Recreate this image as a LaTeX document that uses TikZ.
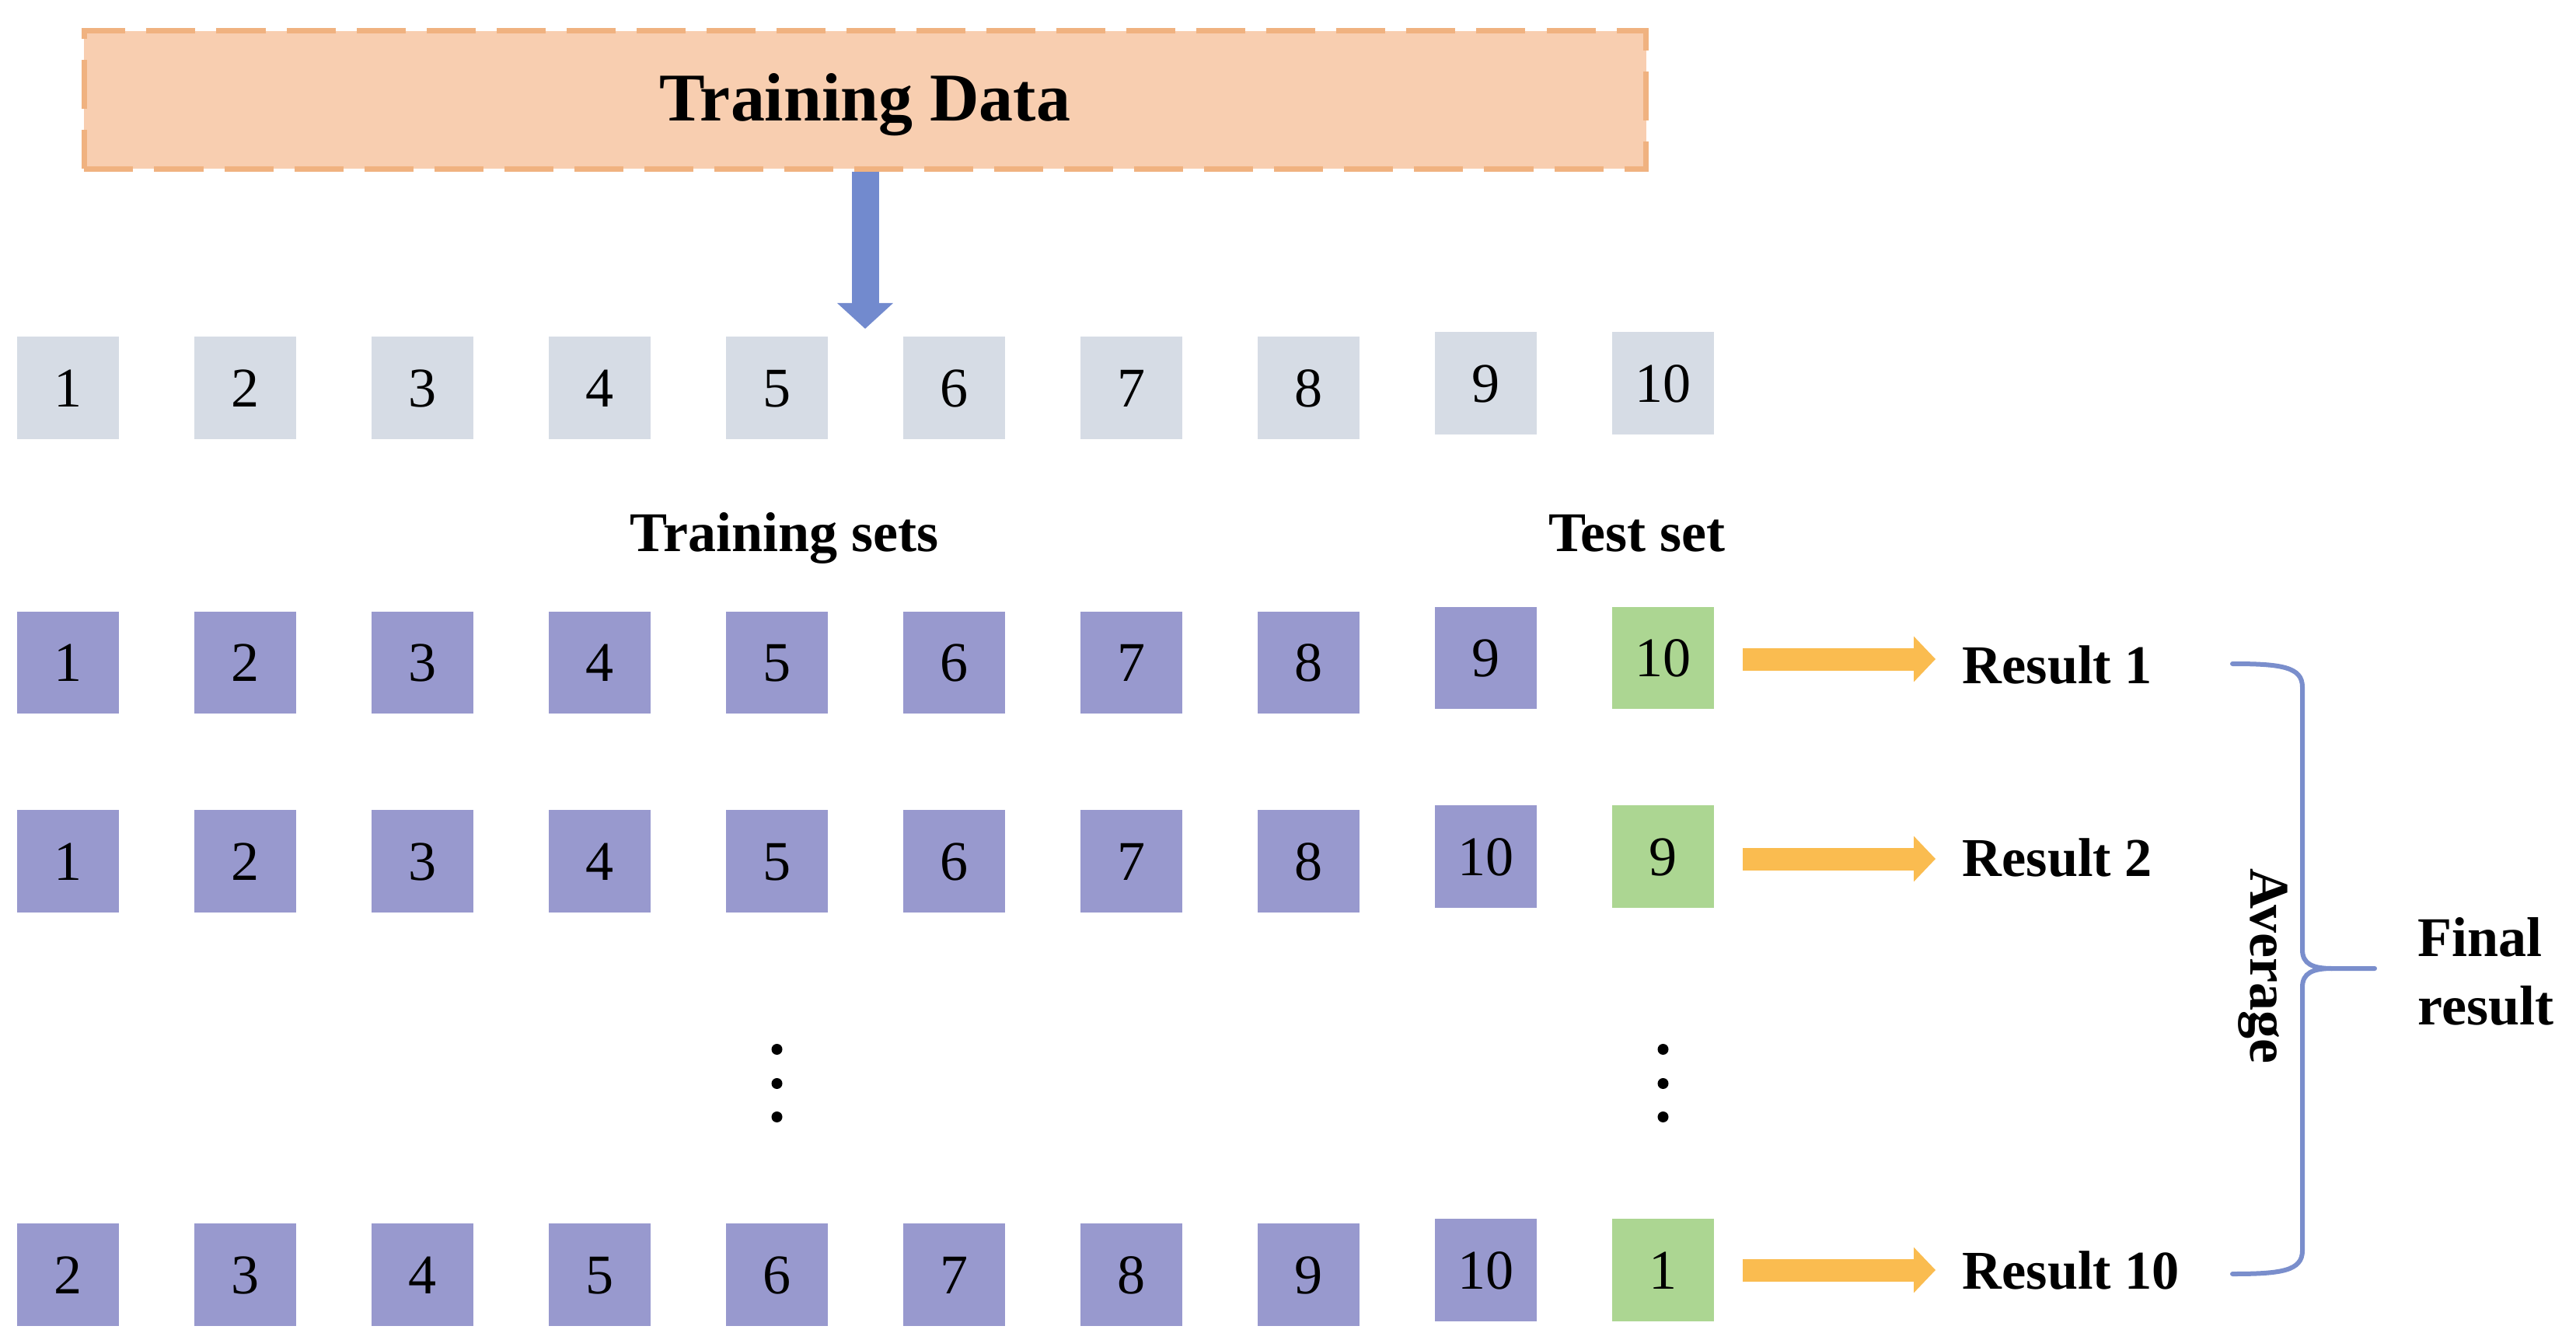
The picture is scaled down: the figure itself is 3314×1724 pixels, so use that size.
\documentclass[tikz,border=0pt]{standalone}
\usepackage{fontspec}
\setmainfont{Liberation Serif}
\usetikzlibrary{arrows.meta}
\definecolor{tdfill}{RGB}{248,206,176}
\definecolor{tdline}{RGB}{240,178,128}
\definecolor{grayb}{RGB}{214,220,229}
\definecolor{purpb}{RGB}{152,153,206}
\definecolor{greenb}{RGB}{172,214,146}
\definecolor{bluea}{RGB}{114,138,206}
\definecolor{orangea}{RGB}{250,188,80}
\definecolor{bracec}{RGB}{122,142,204}
\begin{document}
\begin{tikzpicture}[x=0.01cm,y=-0.01cm,
  cell/.style={minimum width=1.31cm,minimum height=1.31cm,inner sep=0pt,outer sep=0pt,
    text height=0.487cm,text depth=0pt,font=\fontsize{20.5}{24}\selectfont},
  gcell/.style={cell,fill=grayb},
  pcell/.style={cell,fill=purpb},
  tcell/.style={cell,fill=greenb},
  lbl/.style={font=\fontsize{20.5}{25}\selectfont\bfseries,inner sep=0pt},
  reslbl/.style={font=\fontsize{20}{25}\selectfont\bfseries,inner sep=0pt,anchor=base west},
  orarrow/.style={draw=orangea,line width=0.29cm,-{Triangle[length=0.28cm,width=0.57cm]}},
  dotn/.style={circle,fill=black,minimum size=0.14cm,inner sep=0pt},
]
\useasboundingbox (0,0) rectangle (3314,1724);

% Training data box
\node[draw=tdline,fill=tdfill,line width=0.07cm,dash pattern=on 0.63cm off 0.27cm,
  minimum width=20.08cm,minimum height=1.77cm,inner sep=0pt,
  text height=0.6cm,text depth=0.07cm,
  font=\fontsize{25}{30}\selectfont\bfseries] (td) at (1113,128.5) {Training Data};

\coordinate (bt) at (1113,423);
\draw[draw=bluea,line width=0.35cm,-{Triangle[length=0.33cm,width=0.70cm]}] (td.south) -- (bt);

% top row
\foreach \i in {1,...,10} {
  \pgfmathsetmacro\xx{87.5+228*(\i-1)}
  \pgfmathsetmacro\yy{\i>8 ? 493 : 499}
  \node[gcell] (a\i) at (\xx,\yy) {\i};
}

\node[lbl,anchor=base] (trs) at (1009,709) {Training sets};
\node[lbl,anchor=base] (tss) at (2106,709) {Test set};

% row 1
\foreach \i in {1,...,9} {
  \pgfmathsetmacro\xx{87.5+228*(\i-1)}
  \pgfmathsetmacro\yy{\i>8 ? 846.5 : 852.5}
  \node[pcell] (b\i) at (\xx,\yy) {\i};
}
\node[tcell] (b10) at (2139.5,846.5) {10};

% row 2
\foreach \i in {1,...,8} {
  \pgfmathsetmacro\xx{87.5+228*(\i-1)}
  \node[pcell] (c\i) at (\xx,1108) {\i};
}
\node[pcell] (c9) at (1911.5,1102) {10};
\node[tcell] (c10) at (2139.5,1102) {9};

% dots
\node[dotn] (d1) at (999.5,1350) {};
\node[dotn] (d2) at (999.5,1394) {};
\node[dotn] (d3) at (999.5,1437) {};
\node[dotn] (e1) at (2139.5,1350) {};
\node[dotn] (e2) at (2139.5,1394) {};
\node[dotn] (e3) at (2139.5,1437) {};

% row 3
\foreach \i in {1,...,8} {
  \pgfmathsetmacro\xx{87.5+228*(\i-1)}
  \pgfmathtruncatemacro\lab{\i+1}
  \node[pcell] (f\i) at (\xx,1640) {\lab};
}
\node[pcell] (f9) at (1911.5,1634) {10};
\node[tcell] (f10) at (2139.5,1634) {1};

% results
\node[reslbl] (r1) at (2524,879) {Result 1};
\node[reslbl] (r2) at (2524,1127) {Result 2};
\node[reslbl] (r3) at (2524,1658) {Result 10};

\draw[orarrow] ([xshift=0.37cm,yshift=-0.015cm]b10.east) -- ++(248,0);
\draw[orarrow] ([xshift=0.37cm,yshift=-0.03cm]c10.east) -- ++(248,0);
\draw[orarrow] ([xshift=0.37cm]f10.east) -- ++(248,0);

% brace
\coordinate (bra) at (2872,854);
\coordinate (brb) at (2872,1639);
\coordinate (brt) at (3055,1246);
\draw[bracec,line width=0.06cm,line cap=round]
  (bra) .. controls (2935,854) and (2962,858) .. (2962,884)
  -- (2962,1222) .. controls (2962,1240) and (2975,1246) .. (3000,1246) -- (brt);
\draw[bracec,line width=0.06cm,line cap=round]
  (3000,1246) .. controls (2975,1246) and (2962,1252) .. (2962,1270)
  -- (2962,1609) .. controls (2962,1635) and (2935,1639) .. (brb);

\node[lbl,rotate=-90,anchor=base west] (avg) at (2895,1117) {Average};
\node[lbl,anchor=base west,align=left] (fin) at (3110,1318) {Final\\result};
\end{tikzpicture}
\end{document}
